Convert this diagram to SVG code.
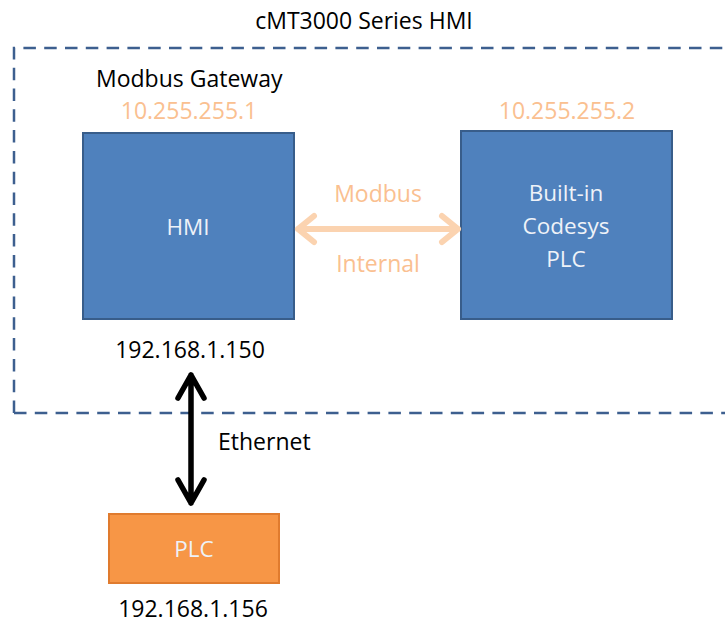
<svg xmlns="http://www.w3.org/2000/svg" width="725" height="624" viewBox="0 0 725 624">
<defs>
<style>
text{font-family:"Open Sans","Liberation Sans",sans-serif;}
.lbl{font-size:23px;fill:#000;}
.ip{font-size:23px;fill:#fac090;}
.box{fill:#4f81bd;stroke:#385d8a;stroke-width:2;}
.wt{font-size:22.5px;fill:#eef2f8;text-anchor:middle;}
.peach{fill:none;stroke:#fbd3b0;stroke-width:6;stroke-linecap:round;stroke-linejoin:round;}
.blk{fill:none;stroke:#000;stroke-width:5.5;stroke-linecap:round;stroke-linejoin:round;}
</style>
</defs>
<rect width="725" height="624" fill="#fff"/>
<g id="frame">
<text x="364" y="29" class="lbl" text-anchor="middle">cMT3000 Series HMI</text>
<path d="M14,413 V48 H735 M14,413 H735" fill="none" stroke="#3d5f8f" stroke-width="2.5" stroke-dasharray="12.5,8.3"/>
<text x="96" y="87" class="lbl">Modbus Gateway</text>
</g>
<g id="hmi">
<text x="189" y="119" class="ip" text-anchor="middle">10.255.255.1</text>
<rect x="83" y="133" width="211" height="186" class="box"/>
<text x="188" y="235" class="wt">HMI</text>
<text x="190" y="358" class="lbl" text-anchor="middle">192.168.1.150</text>
</g>
<g id="codesys">
<text x="567" y="119" class="ip" text-anchor="middle">10.255.255.2</text>
<rect x="461" y="131" width="211" height="188" class="box"/>
<text x="566" y="201" class="wt">Built-in</text>
<text x="566" y="234" class="wt">Codesys</text>
<text x="566" y="267" class="wt">PLC</text>
</g>
<g id="plc">
<rect x="109" y="514" width="170" height="69" fill="#f79646" stroke="#e07b2e" stroke-width="2"/>
<text x="194" y="557" class="wt">PLC</text>
<text x="193" y="617" class="lbl" text-anchor="middle">192.168.1.156</text>
</g>
<g id="connectors">
<path class="peach" d="M298,229 H458 M314,216 L298,229 L314,242 M442,216 L458,229 L442,242"/>
<text x="378" y="202" class="ip" text-anchor="middle" font-size="19">Modbus</text>
<text x="378" y="272" class="ip" text-anchor="middle">Internal</text>
<path class="blk" d="M191,375 V503 M178,398 L191,375 L204,398 M178,480 L191,503 L204,480"/>
<text x="218" y="450" class="lbl">Ethernet</text>
</g>
</svg>
